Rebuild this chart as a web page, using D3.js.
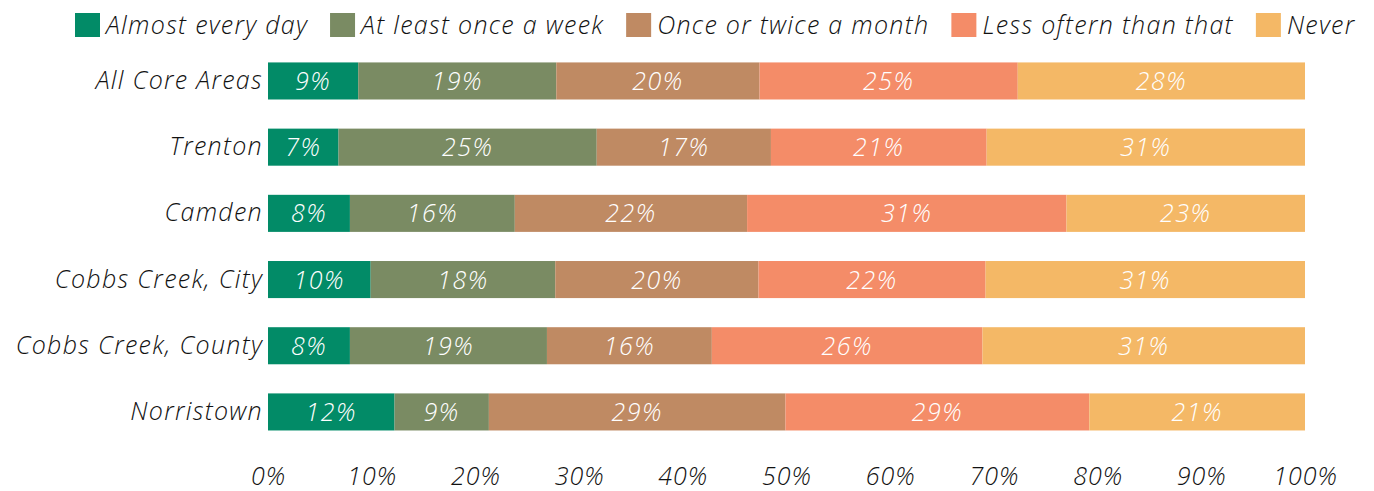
<!DOCTYPE html>
<html>
<head>
<meta charset="utf-8">
<script src="https://cdn.jsdelivr.net/npm/d3@7"></script>
<style>
  body { margin: 0; background: #fff; }
  svg text { font-family: "Open Sans", sans-serif; font-style: italic; font-weight: 300; }
</style>
</head>
<body>
<svg id="chart" width="1374" height="491"></svg>
<script>
// categories, top to bottom
var areas = ["All Core Areas", "Trenton", "Camden", "Cobbs Creek, City", "Cobbs Creek, County", "Norristown"];

// response options (legend order)
var responses = ["Almost every day", "At least once a week", "Once or twice a month", "Less oftern than that", "Never"];
var colors = ["#028b67", "#7a8b63", "#bf8a63", "#f48c68", "#f4b866"];

// share of each response per area (percent, one array per response)
var almostEveryDay = [8.7, 6.8, 7.9, 9.9, 7.9, 12.2];
var onceAWeek      = [19.1, 24.9, 15.9, 17.8, 19.0, 9.1];
var onceTwiceMonth = [19.6, 16.8, 22.4, 19.6, 15.9, 28.6];
var lessOften      = [24.9, 20.8, 30.8, 21.9, 26.1, 29.3];
var never          = [27.7, 30.7, 23.0, 30.8, 31.1, 20.8];

var xTicks = [0, 10, 20, 30, 40, 50, 60, 70, 80, 90, 100];

var series = [almostEveryDay, onceAWeek, onceTwiceMonth, lessOften, never];

// build rows for d3.stack
var rows = areas.map(function(a, i) {
  var r = { area: a };
  responses.forEach(function(k, j) { r[k] = series[j][i]; });
  return r;
});

var svg = d3.select("#chart");

var xScale = d3.scaleLinear().domain([0, 100]).range([268, 1305]);
var yScale = d3.scaleBand().domain(areas).range([33.3, 459.6]).padding(0.44);
var color = d3.scaleOrdinal().domain(responses).range(colors);

var stacked = d3.stack().keys(responses)(rows);

// bars
var layers = svg.append("g").selectAll("g")
    .data(stacked)
    .enter().append("g")
    .attr("fill", function(d) { return color(d.key); });

layers.selectAll("rect")
    .data(function(d) { return d; })
    .enter().append("rect")
    .attr("x", function(d) { return xScale(d[0]); })
    .attr("y", function(d) { return yScale(d.data.area); })
    .attr("width", function(d) { return xScale(d[1]) - xScale(d[0]); })
    .attr("height", yScale.bandwidth());

// value labels
layers.selectAll("text")
    .data(function(d) { return d; })
    .enter().append("text")
    .attr("x", function(d) { return (xScale(d[0]) + xScale(d[1])) / 2; })
    .attr("y", function(d) { return yScale(d.data.area) + yScale.bandwidth() / 2; })
    .attr("dy", "0.36em")
    .attr("text-anchor", "middle")
    .attr("fill", "#fff")
    .style("font-size", "25px")
    .style("letter-spacing", "1.5px")
    .text(function(d) { return Math.round(d[1] - d[0]) + "%"; });

// y axis (category labels)
var yAxis = svg.append("g")
    .attr("transform", "translate(268,0)")
    .call(d3.axisLeft(yScale).tickSize(0).tickPadding(5));
yAxis.attr("font-family", null);
yAxis.select(".domain").remove();
yAxis.selectAll("text")
    .attr("fill", "#111")
    .style("font-size", "25px")
    .style("letter-spacing", "1.3px");

// x axis
var xAxis = svg.append("g")
    .attr("transform", "translate(0,459)")
    .call(d3.axisBottom(xScale).tickValues(xTicks).tickSize(0).tickPadding(8)
      .tickFormat(function(d) { return d + "%"; }));
xAxis.attr("font-family", null);
xAxis.select(".domain").remove();
xAxis.selectAll("text")
    .attr("fill", "#111")
    .style("font-size", "25px")
    .style("letter-spacing", "1px");

// legend
var legend = svg.append("g");
var lx = 75;
responses.forEach(function(k) {
  var item = legend.append("g").attr("transform", "translate(" + lx + ",0)");
  item.append("rect")
      .attr("x", 0).attr("y", 13)
      .attr("width", 25).attr("height", 24)
      .attr("fill", color(k));
  var t = item.append("text")
      .attr("x", 31).attr("y", 25)
      .attr("dy", "0.36em")
      .attr("fill", "#111")
      .style("font-size", "25px")
      .style("letter-spacing", "1.3px")
      .text(k);
  lx += 31 + t.node().getComputedTextLength() + 22;
});
</script>
</body>
</html>
